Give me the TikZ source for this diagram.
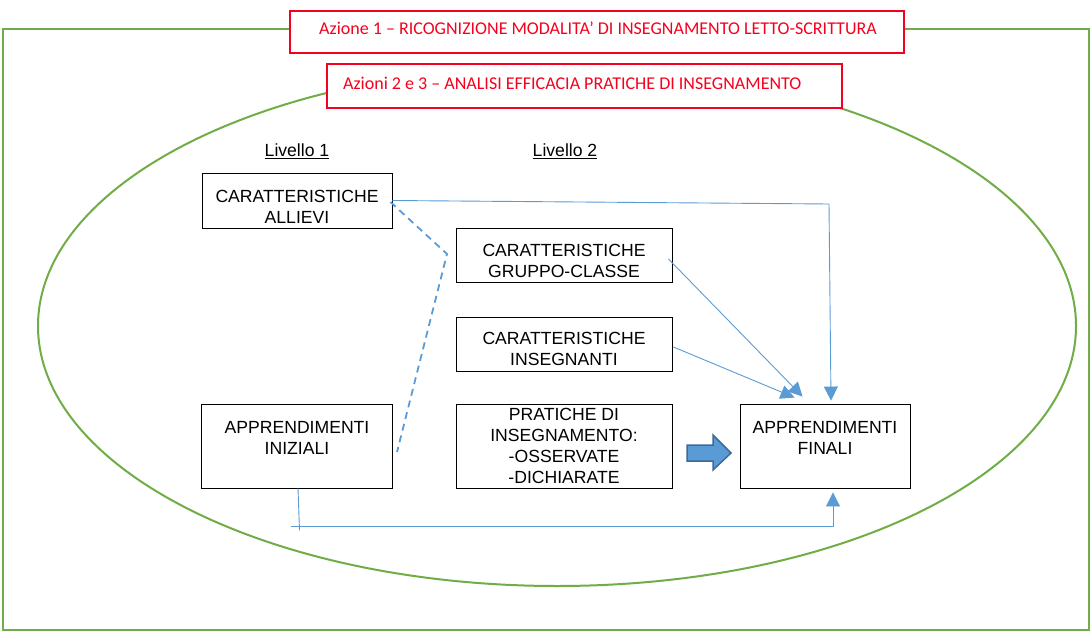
\documentclass[tikz,border=0pt]{standalone}
\usepackage{fontspec}
\setmainfont{Liberation Sans}
\newfontfamily\calibri{Carlito}
\usetikzlibrary{arrows.meta,calc}
\definecolor{grn}{HTML}{70AD47}
\definecolor{lblue}{HTML}{5B9BD5}
\definecolor{dblue}{HTML}{3F6A98}
\definecolor{rred}{HTML}{F5001E}
\begin{document}
\begin{tikzpicture}[x=1pt,y=-1pt,
  box/.style={draw=black, line width=0.9pt, inner sep=0pt},
  redbox/.style={draw=rred, line width=1.8pt, fill=white, inner sep=0pt},
  lbl/.style={font=\fontsize{17.6}{21}\selectfont, align=center, inner sep=0pt},
  redtxt/.style={font=\calibri\fontsize{18}{21}\selectfont, text=rred, inner sep=0pt},
  conn/.style={draw=lblue, line width=0.9pt},
  tip/.style={-{Triangle[width=14pt,length=14pt]}},
  dashconn/.style={draw=lblue, line width=1.8pt, dash pattern=on 7pt off 5pt}
]
\useasboundingbox (0,0) rectangle (1091,636);
% frame and ellipse
\draw[grn, line width=2.2pt] (3,29) rectangle (1089,630);
\draw[grn, line width=2pt] (557,326) ellipse [x radius=519, y radius=260];
% red title boxes
\node[redbox, minimum width=614pt, minimum height=42pt] (az1) at (597,32) {};
\node[redtxt, anchor=base] (az1t) at (598,35) {Azione 1 – RICOGNIZIONE MODALITA’ DI INSEGNAMENTO LETTO-SCRITTURA};
\node[redbox, minimum width=515pt, minimum height=44pt] (az2) at (584.5,86) {};
\node[redtxt, anchor=base west] (az2t) at (343,90) {Azioni 2 e 3 – ANALISI EFFICACIA PRATICHE DI INSEGNAMENTO};
% level labels
\node[lbl, anchor=base] (liv1) at (297,157) {\underline{Livello 1}};
\node[lbl, anchor=base] (liv2) at (565,157) {\underline{Livello 2}};
% boxes
\node[box, minimum width=190pt, minimum height=55pt] (allievi) at (297,200.5) {};
\node[box, minimum width=216pt, minimum height=54pt] (gruppo) at (564,255) {};
\node[box, minimum width=216pt, minimum height=54pt] (insegn) at (564,344) {};
\node[box, minimum width=216pt, minimum height=84pt] (pratiche) at (564,446) {};
\node[box, minimum width=191pt, minimum height=84pt] (iniziali) at (296.5,446) {};
\node[box, minimum width=170pt, minimum height=84pt] (finali) at (825,446) {};
% box texts
\node[lbl] (tallievi) at (297,206.5) {CARATTERISTICHE\\ALLIEVI};
\node[lbl] (tgruppo) at (564,261) {CARATTERISTICHE\\GRUPPO-CLASSE};
\node[lbl] (tinsegn) at (564,349) {CARATTERISTICHE\\INSEGNANTI};
\node[lbl] (tpratiche) at (564,445.5) {PRATICHE DI\\INSEGNAMENTO:\\-OSSERVATE\\-DICHIARATE};
\node[lbl] (tiniziali) at (297,437.5) {APPRENDIMENTI\\INIZIALI};
\node[lbl] (tfinali) at (825,437.5) {APPRENDIMENTI\\FINALI};
% connectors
\coordinate (c1) at (829,204);
\draw[conn, tip] (allievi.east) -- (c1) -- ($(finali.north)+(6,-3)$);
\draw[conn, tip] ($(gruppo.east)+(-4,4)$) -- ($(finali.north west)+(63,-7)$);
\draw[conn, tip] ($(insegn.east)+(1,3)$) -- ($(finali.north west)+(55,-6)$);
\coordinate (d1) at (447,254);
\coordinate (d2) at (397,452);
\draw[dashconn] ($(allievi.east)+(-2,1.5)$) -- (d1) -- (d2);
\coordinate (b1) at (291,526);
\coordinate (b2) at (833,526);
\draw[conn] ($(iniziali.south)+(1.5,0)$) -- ++(1.5,42);
\draw[conn, tip] (b1) -- (b2) -- ($(finali.south)+(8,4)$);
% block arrow
\draw[fill=lblue, draw=dblue, line width=1.5pt, line join=miter]
  (687,445) -- (713,445) -- (713,435) -- (731,453) -- (713,470) -- (713,461) -- (687,461) -- cycle;
\end{tikzpicture}
\end{document}
